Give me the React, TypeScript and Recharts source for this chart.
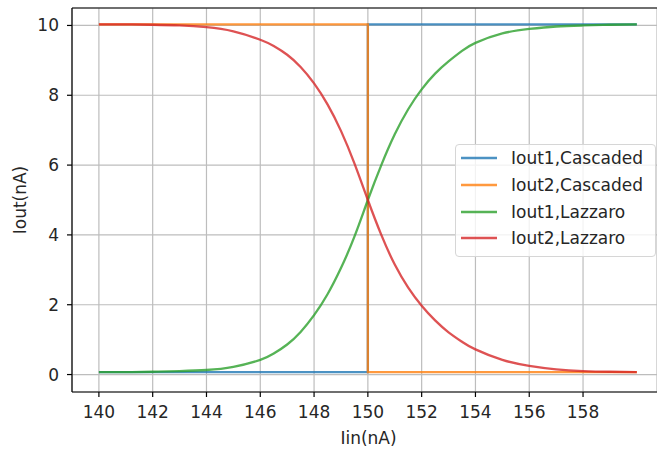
import React from 'react';
import { LineChart, Line, XAxis, YAxis, CartesianGrid, Legend, ReferenceLine, Label } from 'recharts';

const iin = [140, 141, 142, 143, 144, 145, 146, 146.5, 147, 147.5, 148, 148.5, 149, 149.5, 150, 150.5, 151, 151.5, 152, 152.5, 153, 153.5, 154, 155, 156, 157, 158, 159, 160];

const iout1Cascaded = [0.07, 0.07, 0.07, 0.07, 0.07, 0.07, 0.07, 0.07, 0.07, 0.07, 0.07, 0.07, 0.07, 0.07, 10.03, 10.03, 10.03, 10.03, 10.03, 10.03, 10.03, 10.03, 10.03, 10.03, 10.03, 10.03, 10.03, 10.03, 10.03];
const iout2Cascaded = [10.03, 10.03, 10.03, 10.03, 10.03, 10.03, 10.03, 10.03, 10.03, 10.03, 10.03, 10.03, 10.03, 10.03, 0.07, 0.07, 0.07, 0.07, 0.07, 0.07, 0.07, 0.07, 0.07, 0.07, 0.07, 0.07, 0.07, 0.07, 0.07];
const iout1Lazzaro = [0.07, 0.07, 0.08, 0.1, 0.13, 0.22, 0.42, 0.6, 0.86, 1.22, 1.7, 2.3, 3.05, 3.95, 5.0, 6.0, 6.88, 7.6, 8.17, 8.62, 8.97, 9.27, 9.5, 9.77, 9.9, 9.97, 10.0, 10.02, 10.03];
const iout2Lazzaro = [10.03, 10.03, 10.02, 10.0, 9.95, 9.83, 9.59, 9.41, 9.16, 8.81, 8.34, 7.74, 6.98, 6.05, 5.0, 4.0, 3.15, 2.49, 1.97, 1.55, 1.21, 0.94, 0.72, 0.42, 0.25, 0.15, 0.1, 0.08, 0.07];

const xTicks = [140, 142, 144, 146, 148, 150, 152, 154, 156, 158];
const yTicks = [0, 2, 4, 6, 8, 10];

const seriesNames = ['Iout1,Cascaded', 'Iout2,Cascaded', 'Iout1,Lazzaro', 'Iout2,Lazzaro'];
const seriesColors = ['#1f77b4', '#ff7f0e', '#2ca02c', '#d62728'];

const data = iin.map((x, i) => ({
  x,
  c1: iout1Cascaded[i],
  c2: iout2Cascaded[i],
  l1: iout1Lazzaro[i],
  l2: iout2Lazzaro[i],
}));

const font = 'DejaVu Sans, sans-serif';
const textColor = '#262626';
const fs = 17;

const renderLegend = () => (
  <div
    style={{
      position: 'relative',
      width: 201,
      height: 113,
      boxSizing: 'border-box',
      border: '1px solid #d6d6d6',
      borderRadius: 4,
      background: 'rgba(255,255,255,0.8)',
      fontFamily: font,
      fontSize: fs,
      color: textColor,
    }}
  >
    {seriesNames.map((name, i) => (
      <div
        key={name}
        style={{ position: 'absolute', left: 4, top: 13 + i * 26.8 - 12, height: 24, display: 'flex', alignItems: 'center' }}
      >
        <svg width={38} height={24} style={{ display: 'block' }}>
          <line x1={1} y1={12} x2={37} y2={12} stroke={seriesColors[i]} strokeOpacity={0.8} strokeWidth={2.3} />
        </svg>
        <span style={{ marginLeft: 13, lineHeight: '24px', whiteSpace: 'nowrap' }}>{name}</span>
      </div>
    ))}
  </div>
);

export default function App() {
  return (
    <div style={{ position: 'absolute', left: 0, top: 0, width: 657, height: 450, overflow: 'hidden', background: '#fff' }}>
      <LineChart width={657} height={450} data={data} margin={{ top: 8, right: 0, bottom: 0, left: 0 }} style={{ fontFamily: font }}>
        <CartesianGrid stroke="#bdbdbd" strokeWidth={1.2} />
        <XAxis
          dataKey="x"
          type="number"
          domain={[139, 160.75]}
          ticks={xTicks}
          allowDataOverflow
          height={58}
          tickSize={5}
          tickMargin={9}
          axisLine={{ stroke: '#000', strokeWidth: 1.2 }}
          tickLine={{ stroke: '#000', strokeWidth: 1.2 }}
          tick={{ fill: textColor, fontSize: fs, fontFamily: font }}
        >
          <Label value="Iin(nA)" position="insideBottom" offset={6} dx={4} fill={textColor} fontSize={fs} fontFamily={font} />
        </XAxis>
        <YAxis
          type="number"
          domain={[-0.5, 10.5]}
          ticks={yTicks}
          allowDataOverflow
          width={72}
          tickSize={5}
          tickMargin={8}
          axisLine={{ stroke: '#000', strokeWidth: 1.2 }}
          tickLine={{ stroke: '#000', strokeWidth: 1.2 }}
          tick={{ fill: textColor, fontSize: fs, fontFamily: font }}
        >
          <Label value="Iout(nA)" angle={-90} position="insideLeft" offset={20} fill={textColor} fontSize={fs} fontFamily={font} style={{ textAnchor: 'middle' }} />
        </YAxis>
        <ReferenceLine y={10.5} stroke="#000" strokeWidth={1.2} />
        <Line type="stepAfter" dataKey="c1" name={seriesNames[0]} stroke={seriesColors[0]} strokeOpacity={0.8} strokeWidth={2.3} dot={false} isAnimationActive={false} />
        <Line type="stepAfter" dataKey="c2" name={seriesNames[1]} stroke={seriesColors[1]} strokeOpacity={0.8} strokeWidth={2.3} dot={false} isAnimationActive={false} />
        <Line type="natural" dataKey="l1" name={seriesNames[2]} stroke={seriesColors[2]} strokeOpacity={0.8} strokeWidth={2.3} dot={false} isAnimationActive={false} />
        <Line type="natural" dataKey="l2" name={seriesNames[3]} stroke={seriesColors[3]} strokeOpacity={0.8} strokeWidth={2.3} dot={false} isAnimationActive={false} />
        <Legend
          content={renderLegend}
          layout="horizontal"
          verticalAlign="middle"
          align="center"
          wrapperStyle={{ left: 455, top: 144, width: 201, height: 113 }}
        />
      </LineChart>
    </div>
  );
}
